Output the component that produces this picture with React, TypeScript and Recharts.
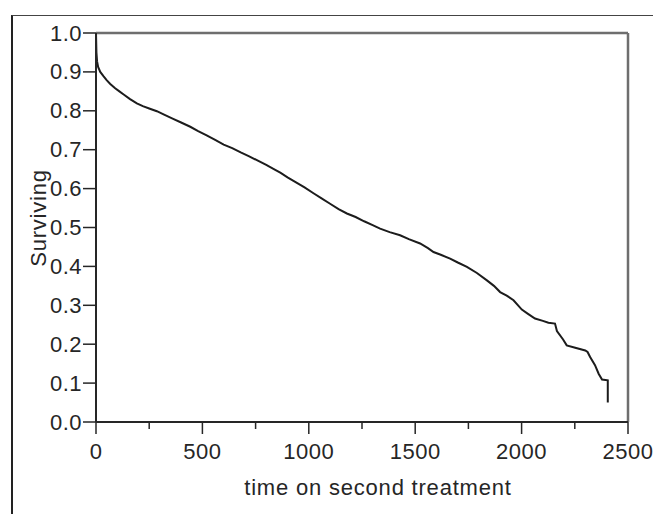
import React from 'react';
import { LineChart, Line, XAxis, YAxis, ReferenceLine, Label } from 'recharts';

// Kaplan-Meier style survival estimate
const times = [
    0, 2, 5, 10, 20, 35, 50, 67, 90, 110, 130, 160, 192, 220, 250, 286, 320, 360, 400, 443,
    480, 520, 560, 600, 640, 680, 720, 756, 800, 840, 866, 900, 940, 980, 1022, 1060, 1100,
    1140, 1179, 1220, 1260, 1300, 1335, 1380, 1429, 1470, 1523, 1560, 1586, 1620, 1664, 1700,
    1743, 1790, 1837, 1870, 1899, 1930, 1962, 2001, 2030, 2063, 2100, 2126, 2157, 2166, 2195,
    2212, 2252, 2299, 2310, 2322, 2345, 2362, 2378, 2405, 2405
];
const surviving = [
    1.0, 0.95, 0.927, 0.913, 0.9, 0.889, 0.879, 0.869, 0.858, 0.85, 0.842, 0.83, 0.819, 0.812,
    0.806, 0.799, 0.79, 0.78, 0.77, 0.759, 0.748, 0.737, 0.725, 0.713, 0.704, 0.693, 0.683,
    0.673, 0.661, 0.649, 0.641, 0.629, 0.616, 0.603, 0.588, 0.575, 0.561, 0.547, 0.536, 0.527,
    0.516, 0.506, 0.497, 0.488, 0.48, 0.47, 0.459, 0.447, 0.437, 0.43, 0.42, 0.41, 0.399, 0.383,
    0.364, 0.35, 0.334, 0.325, 0.313, 0.289, 0.278, 0.266, 0.26, 0.255, 0.253, 0.234, 0.212,
    0.197, 0.191, 0.184, 0.18, 0.167, 0.146, 0.124, 0.109, 0.107, 0.05
];
const xTicks = [0, 250, 500, 750, 1000, 1250, 1500, 1750, 2000, 2250, 2500];
const yTicks = [0, 0.1, 0.2, 0.3, 0.4, 0.5, 0.6, 0.7, 0.8, 0.9, 1.0];

const data = times.map((t, i) => ({ t, s: surviving[i] }));

const FONT = '"Liberation Sans", Arial, sans-serif';
const INK = '#262626';

const XTick = ({ x, y, payload }: any) => {
    const v = payload.value;
    const major = v % 500 === 0;
    return (
        <g>
            <line x1={x} x2={x} y1={y} y2={y + (major ? 12 : 7)} stroke={INK} strokeWidth={1.5} />
            {major && (
                <text x={x} y={y + 37} textAnchor="middle" fontFamily={FONT} fontSize={22} letterSpacing={0.5} fill={INK}>
                    {v}
                </text>
            )}
        </g>
    );
};

const YTick = ({ x, y, payload }: any) => (
    <g>
        <line x1={x - 13} x2={x} y1={y} y2={y} stroke={INK} strokeWidth={1.5} />
        <text x={x - 14} y={y + 7.5} textAnchor="end" fontFamily={FONT} fontSize={22} letterSpacing={0.5} fill={INK}>
            {payload.value.toFixed(1)}
        </text>
    </g>
);

export default function App() {
    return (
        <div style={{ position: 'absolute', left: 0, top: 0, width: 653, height: 514, background: '#fff' }}>
            <div
                style={{
                    position: 'absolute',
                    left: 11,
                    top: 15,
                    width: 642,
                    height: 499,
                    borderTop: '1px solid #444',
                    borderLeft: '2px solid #222',
                    boxSizing: 'border-box'
                }}
            />
            <div style={{ position: 'absolute', left: 0, top: 0 }}>
                <LineChart width={653} height={514} data={data} margin={{ top: 33, right: 25, left: 36, bottom: 22 }}>
                    <XAxis
                        dataKey="t"
                        type="number"
                        domain={[0, 2500]}
                        ticks={xTicks}
                        interval={0}
                        height={70}
                        tickSize={0}
                        tickMargin={0}
                        tickLine={false}
                        tick={<XTick />}
                        axisLine={{ stroke: INK, strokeWidth: 2 }}
                    >
                        <Label
                            content={() => (
                                <text x={378} y={495} textAnchor="middle" fontFamily={FONT} fontSize={22} letterSpacing={0.8} fill={INK}>
                                    time on second treatment
                                </text>
                            )}
                        />
                    </XAxis>
                    <YAxis
                        type="number"
                        domain={[0, 1]}
                        ticks={yTicks}
                        interval={0}
                        width={60}
                        tickSize={0}
                        tickMargin={0}
                        tickLine={false}
                        tick={<YTick />}
                        axisLine={{ stroke: INK, strokeWidth: 2 }}
                    >
                        <Label
                            content={() => (
                                <text
                                    x={46}
                                    y={218}
                                    transform="rotate(-90, 46, 218)"
                                    textAnchor="middle"
                                    fontFamily={FONT}
                                    fontSize={22}
                                    letterSpacing={0.8}
                                    fill={INK}
                                >
                                    Surviving
                                </text>
                            )}
                        />
                    </YAxis>
                    <ReferenceLine y={1} stroke="#6e6e6e" strokeWidth={2.5} ifOverflow="extendDomain" />
                    <ReferenceLine x={2500} stroke="#6e6e6e" strokeWidth={2.5} ifOverflow="extendDomain" />
                    <Line
                        type="linear"
                        dataKey="s"
                        stroke="#1c1c1c"
                        strokeWidth={2}
                        dot={false}
                        isAnimationActive={false}
                    />
                </LineChart>
            </div>
        </div>
    );
}
